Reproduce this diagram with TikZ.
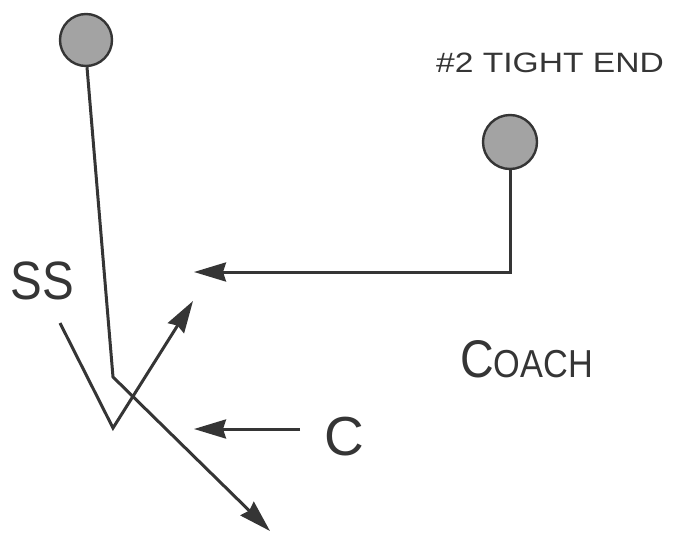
\documentclass[tikz,border=0pt]{standalone}
\usepackage{fontspec}
\setmainfont{Liberation Sans}
\usetikzlibrary{arrows.meta}
\definecolor{ink}{HTML}{353535}
\definecolor{ballfill}{HTML}{A3A3A3}
\tikzset{
  player/.style={circle, draw=ink, line width=2.4pt, fill=ballfill, minimum size=52pt, inner sep=0pt},
  route/.style={draw=ink, line width=3pt, line join=miter},
  arr/.style={route, -{Stealth[length=32pt, width=19pt, inset=3pt]}},
  lbl/.style={text=ink, inner sep=0pt}
}
\begin{document}
\begin{tikzpicture}[x=1pt, y=-1pt]
\useasboundingbox (0,0) rectangle (677,533);
% players
\node[player] (p1) at (86,40) {};
\node[player, minimum size=54pt] (p2) at (510,142) {};
% free-end coordinates
\coordinate (p1b) at ([xshift=1pt]p1.south);
\coordinate (k1) at (113,377);
\coordinate (e1) at (270,531);
\coordinate (v0) at (60,323);
\coordinate (v1) at (113,428);
\coordinate (v2) at (193,301);
\coordinate (h1) at (194,272);
\coordinate (c0) at (300,429);
\coordinate (c1) at (194,429);
% routes
\draw[arr] (p1b) -- (k1) -- (e1);
\draw[arr] (v0) -- (v1) -- (v2);
\draw[arr] (p2.south) |- (h1);
\draw[arr] (c0) -- (c1);
% labels
\node[lbl, font=\fontsize{54}{54}\selectfont] (ss) at (42,281) {\scalebox{0.88}[1]{SS}};
\node[lbl, font=\fontsize{55}{55}\selectfont] (cc) at (344,437) {C};
\node[lbl, font=\fontsize{28}{28}\selectfont] (te) at (550,63) {\scalebox{1.2}[1]{\#2 TIGHT END}};
\node[lbl, anchor=base west] (coach) at (460,377) {\scalebox{0.88}[1]{{\fontsize{53}{53}\selectfont C}{\fontsize{39}{39}\selectfont OACH}}};
\end{tikzpicture}
\end{document}
